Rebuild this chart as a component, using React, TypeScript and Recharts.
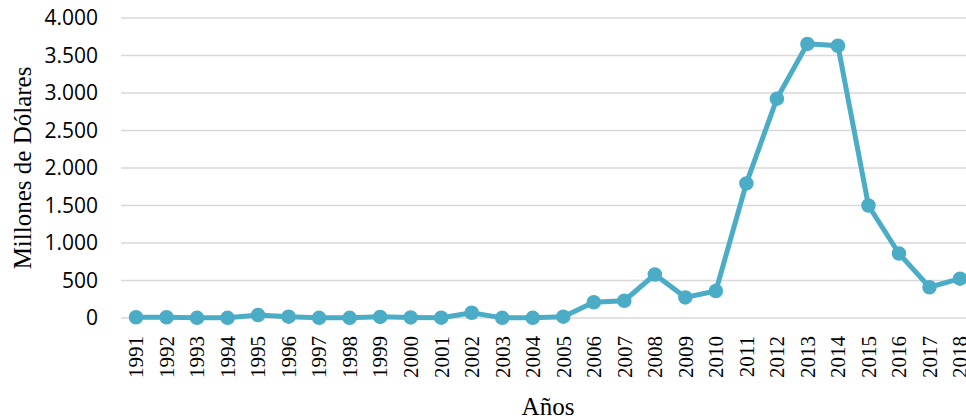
import { LineChart, Line, XAxis, YAxis, CartesianGrid } from "recharts";

const years = [
  "1991", "1992", "1993", "1994", "1995", "1996", "1997", "1998", "1999", "2000",
  "2001", "2002", "2003", "2004", "2005", "2006", "2007", "2008", "2009", "2010",
  "2011", "2012", "2013", "2014", "2015", "2016", "2017", "2018",
];

const montos = [
  10, 10, 2, 2, 40, 18, 2, 2, 15, 8,
  5, 70, 2, 2, 18, 210, 230, 580, 275, 360,
  1795, 2925, 3655, 3630, 1500, 860, 410, 525,
];

const yTicks = [0, 500, 1000, 1500, 2000, 2500, 3000, 3500, 4000];

const data = years.map((y, i) => ({ anio: y, valor: montos[i] }));

const COLOR = "#4BACC6";
const SERIF = "'Liberation Serif', 'Times New Roman', serif";
const SANS = "'Open Sans', Calibri, sans-serif";

// miles con punto, como en el original: 4.000
function fmtMiles(v: number): string {
  return String(v).replace(/\B(?=(\d{3})+(?!\d))/g, ".");
}

function AnioTick({ x, y, payload }: any) {
  return (
    <text
      x={x}
      y={y}
      transform={`rotate(-90, ${x}, ${y})`}
      textAnchor="end"
      dy="0.35em"
      fontFamily={SERIF}
      fontSize={21}
      fill="#000"
    >
      {payload.value}
    </text>
  );
}

function EjeYLabel({ viewBox }: any) {
  const cx = 22;
  const cy = viewBox.y + viewBox.height / 2;
  return (
    <text
      x={cx}
      y={cy}
      transform={`rotate(-90, ${cx}, ${cy})`}
      textAnchor="middle"
      dominantBaseline="central"
      fontFamily={SERIF}
      fontSize={25}
      fill="#000"
    >
      Millones de Dólares
    </text>
  );
}

export default function App() {
  return (
    <div
      style={{
        position: "fixed",
        top: 0,
        left: 0,
        width: 966,
        height: 419,
        overflow: "hidden",
        background: "#fff",
      }}
    >
      <LineChart
        width={990}
        height={419}
        data={data}
        margin={{ top: 18, right: 15, left: 21, bottom: 0 }}
      >
        <CartesianGrid vertical={false} stroke="#d9d9d9" strokeWidth={1.5} />
        <XAxis
          dataKey="anio"
          interval={0}
          axisLine={false}
          tickLine={false}
          tickMargin={12}
          height={101}
          padding={{ left: 15, right: 15 }}
          tick={<AnioTick />}
          label={{
            value: "Años",
            position: "insideBottom",
            offset: 4,
            fontFamily: SERIF,
            fontSize: 25,
            fill: "#000",
          }}
        />
        <YAxis
          domain={[0, 4000]}
          ticks={yTicks}
          width={100}
          axisLine={false}
          tickLine={false}
          tickMargin={17}
          tickFormatter={fmtMiles}
          tick={{ fontFamily: SANS, fontSize: 21, fill: "#000" }}
          label={<EjeYLabel />}
        />
        <Line
          type="linear"
          dataKey="valor"
          stroke={COLOR}
          strokeWidth={5}
          dot={{ r: 6.5, fill: COLOR, stroke: COLOR, strokeWidth: 1.5 }}
          activeDot={false}
          isAnimationActive={false}
        />
      </LineChart>
    </div>
  );
}
